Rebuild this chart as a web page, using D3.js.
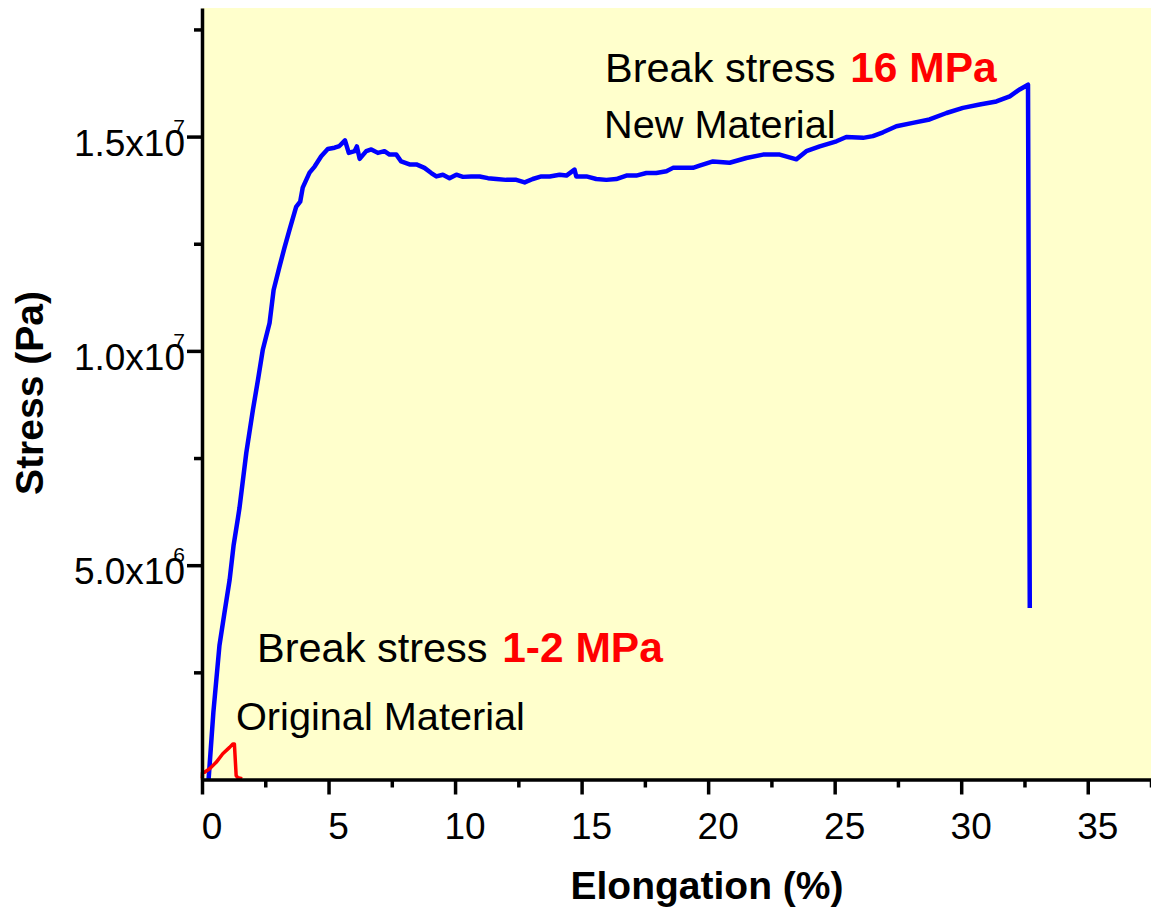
<!DOCTYPE html>
<html>
<head>
<meta charset="utf-8">
<script src="https://cdn.jsdelivr.net/npm/d3@7"></script>
<style>
  body { margin: 0; background: #fff; }
  text { font-family: "Liberation Sans", Arial, Helvetica, sans-serif; }
</style>
</head>
<body>
<svg id="chart" width="1151" height="914"></svg>
<script>
// values: elongation in %, stress in MPa
const newStrain = [0.26, 0.45, 0.69, 0.89, 1.09, 1.25, 1.42, 1.48, 1.75, 2.01, 2.21, 2.40, 2.67, 2.83, 3.06, 3.26,
  3.46, 3.72, 3.88, 3.98, 4.25, 4.45, 4.71, 4.97, 5.24, 5.43, 5.65, 5.80, 6.03, 6.12, 6.23, 6.49, 6.69, 6.95,
  7.21, 7.41, 7.68, 7.87, 8.20, 8.47, 8.79, 9.06, 9.26, 9.52, 9.78, 10.05, 10.31, 10.64, 10.97, 11.30, 11.63,
  12.02, 12.42, 12.75, 13.07, 13.41, 13.74, 14.13, 14.40, 14.72, 14.79, 15.19, 15.58, 15.98, 16.37, 16.77,
  17.16, 17.56, 17.95, 18.35, 18.61, 19.00, 19.40, 19.66, 20.19, 20.85, 21.51, 22.17, 22.83, 23.49, 23.88,
  24.41, 25.07, 25.46, 26.12, 26.51, 26.91, 27.44, 28.09, 28.75, 29.42, 30.07, 30.73, 31.39, 31.92, 32.31,
  32.64, 32.71];
const newStress = [0, 1.57, 3.13, 3.90, 4.65, 5.47, 6.10, 6.33, 7.62, 8.62, 9.32, 10.02, 10.65, 11.42, 11.96, 12.41,
  12.83, 13.36, 13.48, 13.81, 14.16, 14.30, 14.54, 14.71, 14.74, 14.78, 14.91, 14.62, 14.66, 14.77, 14.48, 14.66, 14.70, 14.62,
  14.66, 14.58, 14.58, 14.42, 14.35, 14.35, 14.27, 14.15, 14.07, 14.11, 14.03, 14.11, 14.06, 14.07, 14.07, 14.03, 14.01,
  13.99, 13.99, 13.93, 14.01, 14.07, 14.07, 14.11, 14.09, 14.23, 14.07, 14.07, 14.01, 13.99, 14.01, 14.09,
  14.09, 14.15, 14.15, 14.19, 14.27, 14.27, 14.27, 14.32, 14.42, 14.39, 14.50, 14.58, 14.58, 14.47, 14.66,
  14.77, 14.89, 14.99, 14.97, 15.01, 15.10, 15.24, 15.32, 15.40, 15.55, 15.67, 15.75, 15.82, 15.94, 16.10,
  16.21, 4.00];
const origStrain = [0.01, 0.02, 0.10, 0.30, 0.56, 0.82, 1.09, 1.22, 1.28, 1.35, 1.42, 1.59];
const origStress = [0.02, 0.16, 0.17, 0.25, 0.40, 0.60, 0.75, 0.83, 0.83, 0.09, 0.04, 0.02];

const xMajorTicks = [0, 5, 10, 15, 20, 25, 30, 35];
const xMinorTicks = [2.5, 7.5, 12.5, 17.5, 22.5, 27.5, 32.5, 37.5];
const yMajorTicks = [5e6, 1e7, 1.5e7];
const yTickMantissa = ['5.0x10', '1.0x10', '1.5x10'];
const yTickExponent = ['6', '7', '7'];
const yMinorTicks = [2.5e6, 7.5e6, 1.25e7, 1.75e7];

const margin = {top: 8, right: 0, bottom: 134.5, left: 202};
const W = 1151, H = 914;
const width = W - margin.left - margin.right;
const height = H - margin.top - margin.bottom;

const svg = d3.select('#chart');
const g = svg.append('g')
  .attr('transform', 'translate(' + margin.left + ',' + margin.top + ')');

const x = d3.scaleLinear().domain([0, 37.5]).range([0, width]);
const y = d3.scaleLinear().domain([0, 1.8e7]).range([height, 0]);

// plot background
g.append('rect')
  .attr('width', width)
  .attr('height', height)
  .attr('fill', '#ffffcc');

// curves
const line = d3.line()
  .x(d => x(d[0]))
  .y(d => y(d[1] * 1e6));

g.append('path')
  .datum(d3.zip(newStrain, newStress))
  .attr('d', line)
  .attr('fill', 'none')
  .attr('stroke', '#0000ff')
  .attr('stroke-width', 4.5)
  .attr('stroke-linejoin', 'round');

g.append('path')
  .datum(d3.zip(origStrain, origStress))
  .attr('d', line)
  .attr('fill', 'none')
  .attr('stroke', '#ff0000')
  .attr('stroke-width', 3.5)
  .attr('stroke-linejoin', 'round');

// x axis
const xAxis = g.append('g')
  .attr('transform', 'translate(0,' + height + ')')
  .call(d3.axisBottom(x).tickValues(xMajorTicks).tickSize(15).tickSizeOuter(0).tickFormat(d3.format('d')));
xAxis.selectAll('text')
  .attr('y', 59.5).attr('dy', null).attr('dx', 9.5)
  .style('font-size', '37px').attr('fill', '#000');
g.append('g')
  .attr('transform', 'translate(0,' + height + ')')
  .call(d3.axisBottom(x).tickValues(xMinorTicks).tickSize(8).tickFormat(''))
  .select('.domain').remove();

// y axis
const yAxis = g.append('g')
  .call(d3.axisLeft(y).tickValues(yMajorTicks).tickSize(15).tickSizeOuter(0).tickFormat(''));
yAxis.selectAll('.tick').each(function(d, i) {
  const t = d3.select(this);
  t.append('text')
    .attr('x', -17).attr('y', 18.5)
    .attr('text-anchor', 'end')
    .attr('fill', '#000')
    .style('font-size', '37px')
    .text(yTickMantissa[i]);
  t.append('text')
    .attr('x', -17).attr('y', -3.5)
    .attr('text-anchor', 'end')
    .attr('fill', '#000')
    .style('font-size', '21px')
    .text(yTickExponent[i]);
});
g.append('g')
  .call(d3.axisLeft(y).tickValues(yMinorTicks).tickSize(8).tickFormat(''))
  .select('.domain').remove();

svg.selectAll('.domain, .tick line')
  .attr('stroke', '#000')
  .attr('stroke-width', 3.5);

// axis titles
svg.append('text')
  .attr('x', 707).attr('y', 899)
  .attr('text-anchor', 'middle')
  .style('font-size', '39px').style('font-weight', 'bold')
  .text('Elongation (%)');

svg.append('text')
  .attr('transform', 'translate(43,393) rotate(-90)')
  .attr('text-anchor', 'middle')
  .style('font-size', '39px').style('font-weight', 'bold')
  .text('Stress (Pa)');

// annotations
function annotate(xPos, yPos, size, plain, bold) {
  const t = svg.append('text')
    .attr('x', xPos).attr('y', yPos)
    .style('font-size', size + 'px')
    .attr('fill', '#000');
  t.append('tspan').text(plain);
  if (bold) {
    t.append('tspan')
      .attr('dx', 3)
      .attr('fill', '#ff0000')
      .style('font-weight', 'bold')
      .style('font-size', '42.5px')
      .text(bold);
  }
}
annotate(605, 82, 41.5, 'Break stress\u00a0', '16 MPa');
annotate(604, 138, 39.7, 'New Material');
annotate(257, 662, 41.5, 'Break stress\u00a0', '1-2 MPa');
annotate(236, 730, 39.7, 'Original Material');
</script>
</body>
</html>
